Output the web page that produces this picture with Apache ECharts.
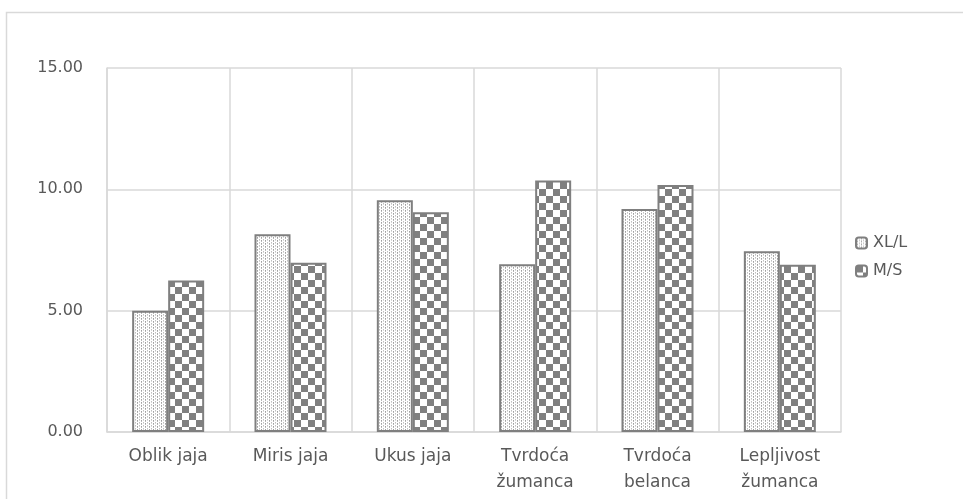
<!DOCTYPE html>
<html><head><meta charset="utf-8">
<script src="https://cdn.jsdelivr.net/npm/echarts@6/dist/echarts.min.js"></script>
<style>html,body{margin:0;padding:0;background:#fff}#c{width:963px;height:499px}</style>
</head><body><div id="c"></div>
<script>
const categories = ['Oblik jaja', 'Miris jaja', 'Ukus jaja', 'Tvrdoća\nžumanca', 'Tvrdoća\nbelanca', 'Lepljivost\nžumanca'];
const seriesNames = ['XL/L', 'M/S'];
const xlValues = [5.0, 8.15, 9.55, 6.91, 9.19, 7.45];
const msValues = [6.24, 6.97, 9.06, 10.36, 10.18, 6.89];

function checker() {
  const c = document.createElement('canvas');
  c.width = 14; c.height = 14;
  const g = c.getContext('2d');
  g.fillStyle = '#ffffff'; g.fillRect(0, 0, 14, 14);
  g.fillStyle = '#808080';
  g.fillRect(0, 0, 7, 7); g.fillRect(7, 7, 7, 7);
  return c;
}
function dots() {
  const c = document.createElement('canvas');
  c.width = 4; c.height = 3;
  const g = c.getContext('2d');
  g.fillStyle = '#ffffff'; g.fillRect(0, 0, 4, 3);
  g.fillStyle = '#a0a0a0'; g.fillRect(1, 0, 1, 1);
  g.fillStyle = '#b8b8b8'; g.fillRect(1, 1, 1, 1);
  g.fillStyle = '#c0c0c0'; g.fillRect(3, 2, 1, 1);
  g.fillStyle = '#d8d8d8'; g.fillRect(3, 0, 1, 1);
  return c;
}

const chart = echarts.init(document.getElementById('c'), null, {renderer: 'canvas'});
const font = 'DejaVu Sans, sans-serif';
chart.setOption({
  animation: false,
  backgroundColor: '#ffffff',
  graphic: [{
    type: 'rect', left: 4, top: 10, z: -1,
    shape: {width: 980, height: 520},
    style: {fill: 'none', stroke: '#d9d9d9', lineWidth: 1.5}
  }],
  legend: {
    orient: 'vertical', left: 850, top: 230,
    itemWidth: 11, itemHeight: 11, itemGap: 12,
    textStyle: {color: '#595959', fontSize: 16, fontFamily: font, padding: [0, 0, 0, 1]},
    data: seriesNames
  },
  grid: {left: 107, right: 122, top: 68, bottom: 67},
  xAxis: {
    type: 'category', data: categories,
    axisLine: {show: true, lineStyle: {color: '#d9d9d9', width: 1.5}},
    axisTick: {show: false},
    splitLine: {show: true, lineStyle: {color: '#d9d9d9', width: 1.5}},
    axisLabel: {color: '#595959', fontSize: 17, fontFamily: font, margin: 12, lineHeight: 26, interval: 0}
  },
  yAxis: {
    type: 'value', min: 0, max: 15, interval: 5,
    axisLine: {show: true, lineStyle: {color: '#d9d9d9', width: 1.5}},
    splitLine: {lineStyle: {color: '#d9d9d9', width: 1.5}},
    axisLabel: {color: '#595959', fontSize: 16, fontFamily: font, margin: 24, formatter: v => v.toFixed(2)}
  },
  series: [
    {name: seriesNames[0], type: 'bar', data: xlValues, barWidth: 36, barGap: '0%',
     itemStyle: {color: {image: dots(), repeat: 'repeat'}, borderColor: '#7f7f7f', borderWidth: 2}},
    {name: seriesNames[1], type: 'bar', data: msValues, barWidth: 36, barGap: '0%',
     itemStyle: {color: {image: checker(), repeat: 'repeat'}, borderColor: '#7f7f7f', borderWidth: 2}}
  ]
});
</script></body></html>
